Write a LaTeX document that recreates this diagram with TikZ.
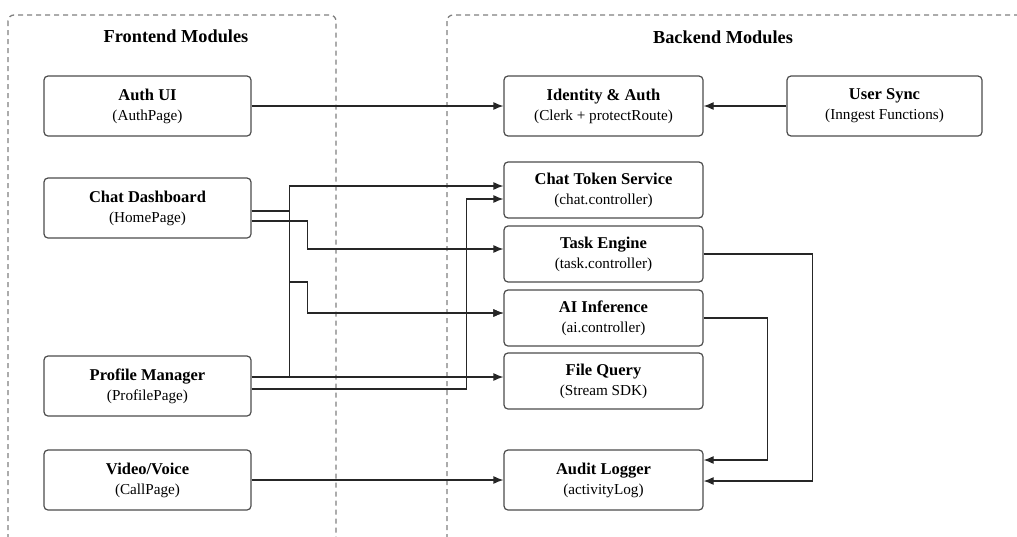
\documentclass[tikz,border=0pt]{standalone}
\usepackage{fontspec}
\setmainfont{Liberation Serif}
\usetikzlibrary{arrows.meta}
\newcommand{\mtitle}[1]{{\fontsize{16.5}{20}\selectfont\bfseries #1}}
\tikzset{
	module/.style={draw=black!70, line width=1.2pt, rounded corners=4pt, minimum width=207pt, minimum height=60pt, inner sep=0pt, align=center, font=\fontsize{15.2}{20}\selectfont},
	svc/.style={module, minimum width=199pt, minimum height=56pt},
	group/.style={draw=black!50, line width=1.3pt, rounded corners=6pt, dash pattern=on 5pt off 4pt},
	grouptitle/.style={font=\fontsize{18.3}{21}\selectfont\bfseries},
	flow/.style={draw=black!85, line width=1.2pt, -{Latex[length=10pt,width=8pt]}},
}
\begin{document}
\begin{tikzpicture}[x=1pt,y=-1pt]
	\useasboundingbox (0,0) rectangle (1017,536);
	\clip (0,0) rectangle (1017,536);
	% containers
	\draw[group] (8,15) rectangle (336,570);
	\draw[group] (447,15) rectangle (1040,570);
	\node[grouptitle] (fetitle) at (176,36) {Frontend Modules};
	\node[grouptitle] (betitle) at (723,37) {Backend Modules};
	% frontend
	\node[module] (authui) at (147.5,106) {\mtitle{Auth UI}\\(AuthPage)};
	\node[module] (chatdash) at (147.5,208) {\mtitle{Chat Dashboard}\\(HomePage)};
	\node[module] (profile) at (147.5,386) {\mtitle{Profile Manager}\\(ProfilePage)};
	\node[module] (video) at (147.5,480) {\mtitle{Video/Voice}\\(CallPage)};
	% backend
	\node[module, minimum width=199pt] (identity) at (603.5,106) {\mtitle{Identity \& Auth}\\(Clerk + protectRoute)};
	\node[module, minimum width=195pt] (usersync) at (884.5,106) {\mtitle{User Sync}\\(Inngest Functions)};
	\node[svc] (token) at (603.5,190) {\mtitle{Chat Token Service}\\(chat.controller)};
	\node[svc] (task) at (603.5,254) {\mtitle{Task Engine}\\(task.controller)};
	\node[svc] (ai) at (603.5,318) {\mtitle{AI Inference}\\(ai.controller)};
	\node[svc] (file) at (603.5,381) {\mtitle{File Query}\\(Stream SDK)};
	\node[module, minimum width=199pt] (audit) at (603.5,480) {\mtitle{Audit Logger}\\(activityLog)};
	% connectors
	\draw[flow] (authui) -- (identity);
	\draw[flow] (usersync) -- (identity);
	\draw[flow] ([yshift=-3pt]chatdash.east) -- ++(38,0) |- ([yshift=4pt]token.west);
	\draw[flow] ([yshift=-13pt]chatdash.east) -- ++(56,0) |- ([yshift=5pt]task.west);
	\draw[flow] ([yshift=-3pt]chatdash.east) -- ++(38,0) -- ++(0,71) -- ++(18,0) |- ([yshift=5pt]ai.west);
	\draw[flow] ([yshift=9pt]profile.east) -- ([yshift=4pt]file.west);
	\draw[flow] ([yshift=9pt]profile.east) -- ++(38,0) |- ++(18,-95) |- ([yshift=5pt]ai.west);
	\draw[flow] ([yshift=-3pt]profile.east) -- ++(215,0) |- ([yshift=-9pt]token.west);
	\draw[flow] (task.east) -- ++(109,0) |- ([yshift=-1pt]audit.east);
	\draw[flow] (ai.east) -- ++(64,0) |- ([yshift=20pt]audit.east);
	\draw[flow] (video) -- (audit);
\end{tikzpicture}
\end{document}
